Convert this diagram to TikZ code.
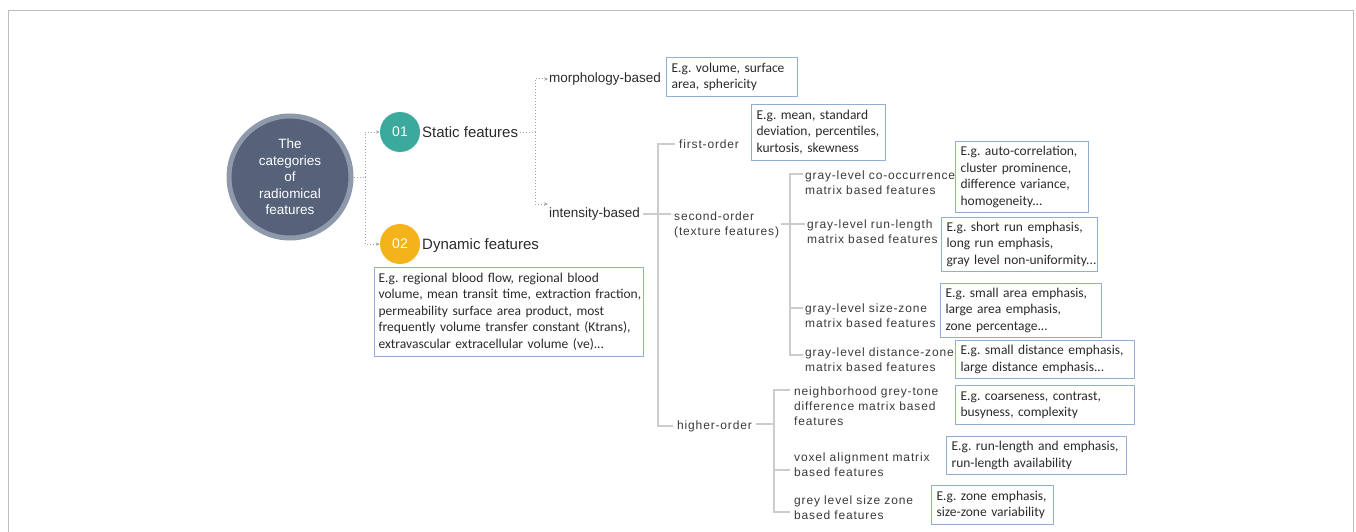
\documentclass[tikz,border=0pt]{standalone}
\usepackage{fontspec}
\setmainfont{Carlito}
\newfontfamily\arialf{Liberation Sans}
\newfontfamily\spcf[LetterSpace=7]{Liberation Sans}
\usetikzlibrary{arrows.meta}
\definecolor{bigc}{HTML}{56627A}
\definecolor{ringc}{HTML}{8E9AAB}
\definecolor{tealc}{HTML}{3BA99C}
\definecolor{orangec}{HTML}{F4B21B}
\definecolor{boxc}{HTML}{94AED0}
\definecolor{txt}{HTML}{2A2A2A}
\definecolor{txtb}{HTML}{3A3A3A}
\definecolor{treec}{HTML}{CCCCCC}
\definecolor{dotc}{HTML}{A6A6A6}
\definecolor{framec}{HTML}{BDBDBD}
\newcommand\exlines[1]{\begin{tabular}{@{}l@{}}#1\end{tabular}}
\frenchspacing
\begin{document}
\begin{tikzpicture}[x=1pt,y=-1pt,
  exbox/.style={draw=boxc, line width=1.1pt, anchor=north west, inner xsep=5pt, inner ysep=0pt,
    align=left, font=\frenchspacing\fontsize{13.5}{16.5}\selectfont, text=txt},
  spc/.style={anchor=west, inner sep=0pt, align=left, font=\spcf\fontsize{12}{15}\selectfont, text=txtb},
  ari/.style={anchor=west, inner sep=0pt, font=\arialf\fontsize{15}{18}\selectfont, text=txt},
  numc/.style={circle, minimum size=40pt, inner sep=0pt, text=white, font=\arialf\fontsize{14}{16}\selectfont},
  dotl/.style={draw=dotc, line width=1pt, dotted, -{Stealth[length=4pt,width=3.5pt]}},
  dotn/.style={draw=dotc, line width=1pt, dotted},
  treel/.style={draw=treec, line width=1.2pt}
]
\useasboundingbox (0,0) rectangle (1356,532);
\draw[framec, line width=1pt] (8,532) -- (8,11) -- (1353,11) -- (1353,532);

% central circle
\node[circle, fill=bigc, draw=ringc, line width=5pt, minimum size=122pt, inner sep=0pt, align=center,
  text=white, font=\arialf\fontsize{13.5}{16.5}\selectfont] (big) at (290,177)
  {The\\categories\\of\\radiomical\\features};

\node[numc, fill=tealc] (c01) at (400,132) {01};
\node[numc, fill=orangec] (c02) at (400,244) {02};
\node[ari] (sf) at (422,132) {Static features};
\node[ari] (df) at (422,246) {Dynamic features};

\coordinate (j1) at (365,177);
\draw[dotn] (big.east) -- (j1);
\draw[dotl] (j1) |- (c01.west);
\draw[dotl] (j1) |- (c02.west);

\node[exbox, inner xsep=4pt, text width=261pt, minimum height=89pt] (dbox) at (374,267)
  {\exlines{E.g. regional blood flow, regional blood\\volume, mean transit time, extraction fraction,\\permeability surface area product, most\\frequently volume transfer constant (Ktrans),\\extravascular extracellular volume (ve)...}};

% static branches
\node[ari, font=\arialf\fontsize{13.5}{16}\selectfont] (mb) at (549,79) {morphology-based};
\node[ari, font=\arialf\fontsize{13.5}{16}\selectfont] (ib) at (549,214) {intensity-based};
\coordinate (j2) at (535,132);
\draw[dotn] ([xshift=2pt]sf.east) -- (j2);
\draw[dotl] (j2) |- ([xshift=-1pt]mb.west);
\draw[dotl] (j2) |- ([xshift=-1pt,yshift=10pt]ib.west);

\node[exbox, text width=121pt, minimum height=39pt] (mbox) at (666,57) {\exlines{E.g. volume, surface\\area, sphericity}};

% intensity tree
\node[spc] (fo) at (679,144) {first-order};
\node[spc] (so) at (674,224.5) {second-order\\(texture features)};
\node[spc] (ho) at (677,426) {higher-order};
\draw[treel] ([xshift=3pt]ib.east) -- ([xshift=-3pt]so.west |- ib.east);
\coordinate (t1a) at (658,144);
\coordinate (t1b) at (658,426);
\draw[treel] ([xshift=-4pt]fo.west) -- (t1a) -- (t1b) -- ([xshift=-4pt]ho.west);

\node[exbox, text width=124pt, minimum height=56pt] (fbox) at (751,104) {\exlines{E.g. mean, standard\\deviation, percentiles,\\kurtosis, skewness}};

% second-order children
\node[spc] (g1) at (805,182.5) {gray-level co-occurrence\\matrix based features};
\node[spc] (g2) at (807,231.5) {gray-level run-length\\matrix based features};
\node[spc] (g3) at (805,315.5) {gray-level size-zone\\matrix based features};
\node[spc] (g4) at (805,359.5) {gray-level distance-zone\\matrix based features};
\coordinate (t2a) at (790,174);
\coordinate (t2m) at (790,224);
\coordinate (t2c) at (790,308);
\coordinate (t2b) at (790,355);
\draw[treel] ([xshift=2pt]so.east |- t2m) -- (t2m);
\draw[treel] ([xshift=-2pt]g1.west |- t2a) -- (t2a) -- (t2b) -- ([xshift=-2pt]g4.west |- t2b);
\draw[treel] (t2m) -- ([xshift=-2pt]g2.west |- t2m);
\draw[treel] (t2c) -- ([xshift=-2pt]g3.west |- t2c);

\node[exbox, text width=123pt, minimum height=71pt] (b1) at (955,141) {\exlines{E.g. auto-correlation,\\cluster prominence,\\difference variance,\\homogeneity...}};
\node[exbox, text width=146pt, minimum height=54pt] (b2) at (941,217) {\exlines{E.g. short run emphasis,\\long run emphasis,\\gray level non-uniformity...}};
\node[exbox, text width=151pt, minimum height=54pt] (b3) at (940,283) {\exlines{E.g. small area emphasis,\\large area emphasis,\\zone percentage...}};
\node[exbox, text width=169pt, minimum height=38pt] (b4) at (955,340) {\exlines{E.g. small distance emphasis,\\large distance emphasis...}};

% higher-order children
\node[spc] (h1) at (794,406) {neighborhood grey-tone\\difference matrix based\\features};
\node[spc] (h2) at (794,464.5) {voxel alignment matrix\\based features};
\node[spc] (h3) at (794,508) {grey level size zone\\based features};
\coordinate (t3m) at (774,424);
\coordinate (t3a) at (774,390);
\coordinate (t3c) at (774,470);
\coordinate (t3b) at (774,512);
\draw[treel] ([xshift=4pt]ho.east |- t3m) -- (t3m);
\draw[treel] ([xshift=-4pt]h1.west |- t3a) -- (t3a) -- (t3b) -- ([xshift=-4pt]h3.west |- t3b);
\draw[treel] (t3c) -- ([xshift=-4pt]h2.west |- t3c);

\node[exbox, text width=169pt, minimum height=39pt] (b5) at (955,385) {\exlines{E.g. coarseness, contrast,\\busyness, complexity}};
\node[exbox, text width=170pt, minimum height=38pt] (b6) at (946,436) {\exlines{E.g. run-length and emphasis,\\run-length availability}};
\node[exbox, text width=112pt, minimum height=39pt] (b7) at (931,485) {\exlines{E.g. zone emphasis,\\size-zone variability}};
\end{tikzpicture}
\end{document}
